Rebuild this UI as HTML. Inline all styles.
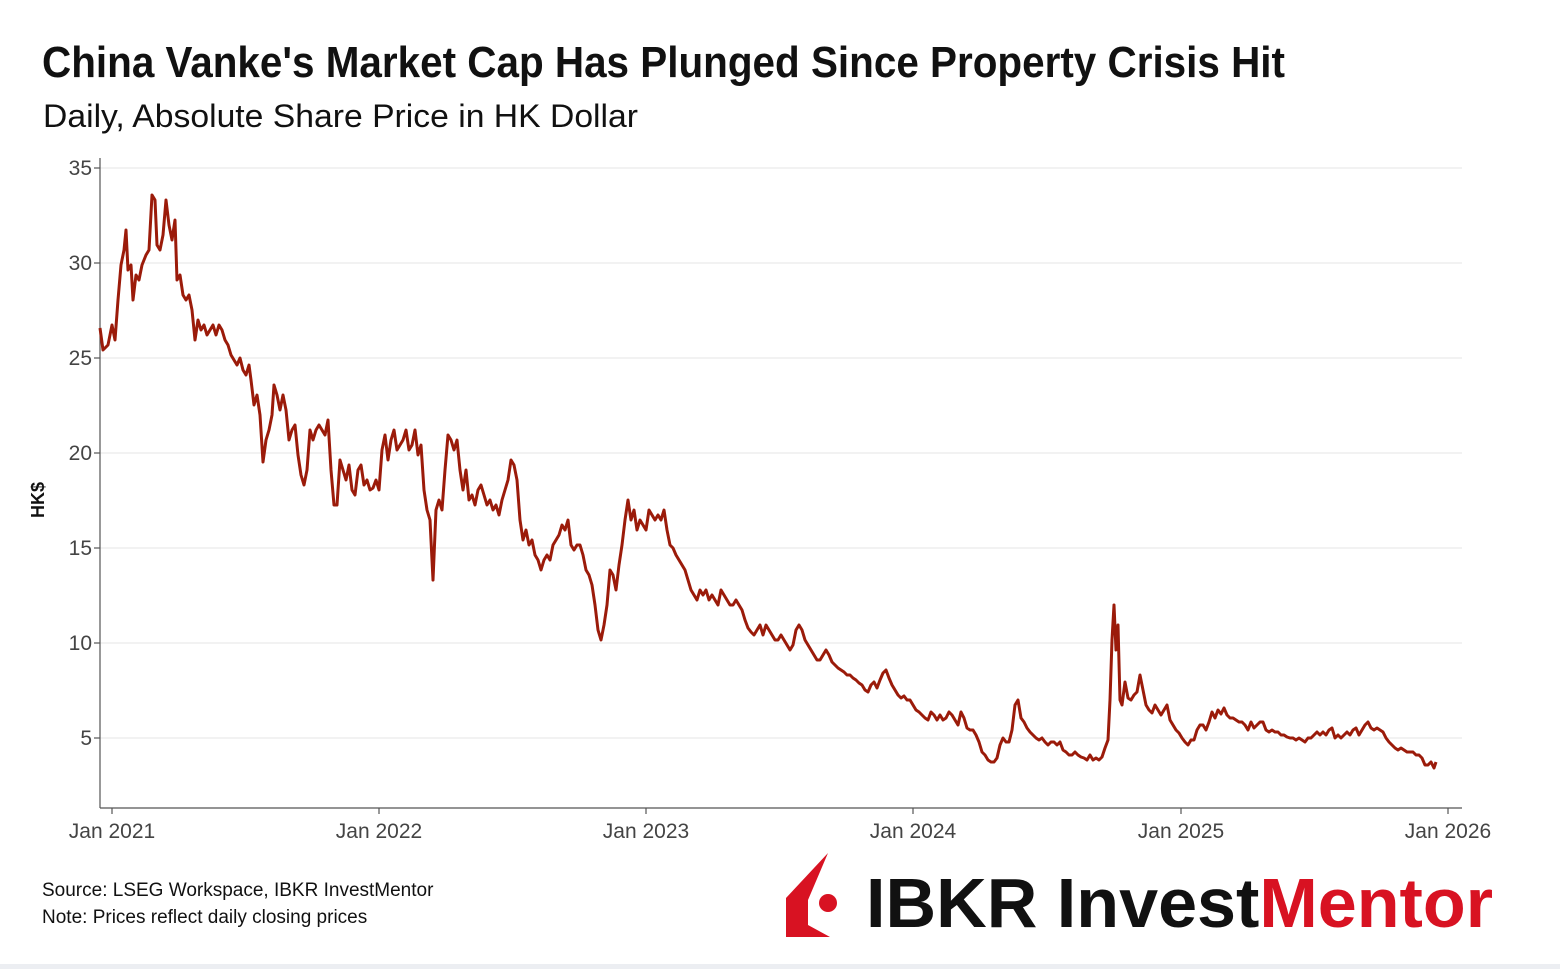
<!DOCTYPE html>
<html><head><meta charset="utf-8"><style>
html,body{margin:0;padding:0;background:#fff;}
svg{display:block;font-family:"Liberation Sans",sans-serif;}
</style></head><body>
<svg width="1560" height="969" viewBox="0 0 1560 969" xmlns="http://www.w3.org/2000/svg">
<rect width="1560" height="969" fill="#fff"/>
<rect y="964" width="1560" height="5" fill="#eceef2"/>
<text x="42" y="77" font-size="44" font-weight="bold" fill="#111" textLength="1243" lengthAdjust="spacingAndGlyphs">China Vanke's Market Cap Has Plunged Since Property Crisis Hit</text>
<text x="43" y="127" font-size="32" fill="#111" textLength="595" lengthAdjust="spacingAndGlyphs">Daily, Absolute Share Price in HK Dollar</text>
<g stroke="#e6e6e6" stroke-width="1">
<line x1="100" x2="1462" y1="168" y2="168"/><line x1="100" x2="1462" y1="263" y2="263"/>
<line x1="100" x2="1462" y1="358" y2="358"/><line x1="100" x2="1462" y1="453" y2="453"/>
<line x1="100" x2="1462" y1="548" y2="548"/><line x1="100" x2="1462" y1="643" y2="643"/>
<line x1="100" x2="1462" y1="738" y2="738"/>
</g>
<g stroke="#555" stroke-width="1.2">
<line x1="100" y1="158" x2="100" y2="808"/><line x1="100" y1="808" x2="1462" y2="808"/>
<line x1="94" x2="100" y1="168" y2="168"/><line x1="94" x2="100" y1="263" y2="263"/><line x1="94" x2="100" y1="358" y2="358"/><line x1="94" x2="100" y1="453" y2="453"/><line x1="94" x2="100" y1="548" y2="548"/><line x1="94" x2="100" y1="643" y2="643"/><line x1="94" x2="100" y1="738" y2="738"/>
<line x1="112" x2="112" y1="808" y2="814"/><line x1="379" x2="379" y1="808" y2="814"/><line x1="646" x2="646" y1="808" y2="814"/><line x1="913" x2="913" y1="808" y2="814"/><line x1="1181" x2="1181" y1="808" y2="814"/><line x1="1448" x2="1448" y1="808" y2="814"/>
</g>
<g font-size="21" fill="#444" text-anchor="end">
<text x="92" y="175">35</text><text x="92" y="270">30</text><text x="92" y="365">25</text><text x="92" y="460">20</text><text x="92" y="555">15</text><text x="92" y="650">10</text><text x="92" y="745">5</text>
</g>
<g font-size="21" fill="#444" text-anchor="middle">
<text x="112" y="838">Jan 2021</text><text x="379" y="838">Jan 2022</text><text x="646" y="838">Jan 2023</text><text x="913" y="838">Jan 2024</text><text x="1181" y="838">Jan 2025</text><text x="1448" y="838">Jan 2026</text>
</g>
<text transform="translate(44,500) rotate(-90)" font-size="18" font-weight="bold" fill="#111" text-anchor="middle">HK$</text>
<polyline fill="none" stroke="#9b1b0a" stroke-width="3" stroke-linejoin="round" points="100,328 103,350 108,345 112,325 115,340 118,300 121,265 124,250 126,230 128,270 131,265 133,300 136,275 139,280 142,265 146,255 149,250 152,195 155,200 157,245 160,250 163,235 166,200 169,225 172,240 175,220 177,280 180,275 183,295 186,300 189,295 192,310 195,340 198,320 201,330 204,325 207,335 210,330 213,325 216,335 219,325 222,330 225,340 228,345 231,355 234,360 237,365 240,358 243,370 246,375 249,365 251,380 254,405 257,395 260,415 263,462 266,440 269,430 272,415 274,385 277,395 280,410 283,395 286,410 289,440 292,430 295,425 298,455 301,475 304,485 307,470 310,430 313,440 316,430 319,425 322,430 325,435 328,420 331,470 334,505 337,505 340,460 343,470 346,480 349,465 352,490 355,495 358,470 361,465 364,485 367,480 370,490 373,488 376,480 379,490 382,450 385,435 388,460 391,440 394,430 397,450 400,445 403,440 406,430 409,450 412,445 415,430 418,455 421,445 424,490 427,510 430,520 433,580 436,510 439,500 442,510 445,470 448,435 451,440 454,450 457,440 460,470 463,490 466,470 469,500 472,495 475,505 478,490 481,485 484,495 487,505 490,500 493,510 496,505 499,515 502,500 505,490 508,480 511,460 514,465 517,480 520,520 523,540 526,530 529,545 532,540 535,555 538,560 541,570 544,560 547,555 550,560 553,545 556,540 559,535 562,525 565,530 568,520 571,545 574,550 577,545 580,545 583,555 586,570 589,575 592,585 595,605 598,630 601,640 604,625 607,605 610,570 613,575 616,590 619,565 622,545 625,520 628,500 631,520 634,510 637,530 640,520 643,525 646,530 649,510 652,515 655,520 658,515 661,520 664,510 667,530 670,545 673,548 676,555 679,560 682,565 685,570 688,580 691,590 694,595 697,600 700,590 703,595 706,590 709,600 712,595 715,600 718,605 721,590 724,595 727,600 730,605 733,605 736,600 739,605 742,610 745,620 748,628 751,632 754,635 757,630 760,625 763,635 766,625 769,630 772,635 775,640 778,640 781,635 784,640 787,645 790,650 793,645 796,630 799,625 802,630 805,640 808,645 811,650 814,655 817,660 820,660 823,655 826,650 829,655 832,662 835,665 838,668 841,670 844,672 847,675 850,675 853,678 856,680 859,683 862,685 865,690 868,692 871,685 874,682 877,688 880,680 883,673 886,670 889,678 892,685 895,690 898,695 901,698 904,696 907,700 910,700 913,705 916,710 919,712 922,715 925,718 928,720 931,712 934,715 937,720 940,715 943,720 946,718 949,712 952,715 955,720 958,725 961,712 964,718 967,728 970,730 973,730 976,735 979,742 982,752 985,755 988,760 991,762 994,762 997,758 1000,745 1003,738 1006,742 1009,742 1012,730 1015,705 1018,700 1021,718 1024,722 1027,728 1030,732 1033,735 1036,738 1039,740 1042,738 1045,742 1048,745 1051,742 1054,742 1057,745 1060,742 1063,750 1066,752 1069,755 1072,755 1075,752 1078,755 1081,757 1084,758 1087,760 1090,755 1093,760 1096,758 1099,760 1102,757 1105,748 1108,740 1110,700 1112,640 1114,605 1116,650 1118,625 1120,700 1122,705 1125,682 1128,698 1131,700 1134,695 1137,692 1140,675 1143,690 1146,705 1149,710 1152,713 1155,705 1158,710 1161,715 1164,710 1167,705 1170,720 1173,725 1176,730 1179,733 1182,738 1185,742 1188,745 1191,740 1194,740 1197,730 1200,725 1203,725 1206,730 1209,722 1212,712 1215,718 1218,710 1221,714 1224,708 1227,715 1230,718 1233,718 1236,720 1239,722 1242,722 1245,725 1248,730 1251,722 1254,728 1257,725 1260,722 1263,722 1266,730 1269,732 1272,730 1275,732 1278,732 1281,735 1284,735 1287,737 1290,738 1293,738 1296,740 1299,738 1302,740 1305,742 1308,738 1311,738 1314,735 1317,732 1320,735 1323,732 1326,735 1329,730 1332,728 1335,738 1338,735 1341,738 1344,735 1347,732 1350,735 1353,730 1356,728 1359,735 1362,730 1365,725 1368,722 1371,728 1374,730 1377,728 1380,730 1383,732 1386,738 1389,742 1392,745 1395,748 1398,750 1401,748 1404,750 1407,752 1410,752 1413,752 1416,755 1419,755 1422,758 1425,765 1428,765 1431,762 1434,768 1436,762"/>
<text x="42" y="896" font-size="19" fill="#111">Source: LSEG Workspace, IBKR InvestMentor</text>
<text x="42" y="923" font-size="19" fill="#111">Note: Prices reflect daily closing prices</text>
<polygon points="828,853 786,898 786,937 830,937 808,925 808,900" fill="#d81222"/>
<circle cx="828" cy="903" r="9" fill="#d81222"/>
<text x="866" y="927" font-size="70" font-weight="bold" fill="#111" textLength="627" lengthAdjust="spacingAndGlyphs">IBKR Invest<tspan fill="#d81222">Mentor</tspan></text>
</svg>
</body></html>
